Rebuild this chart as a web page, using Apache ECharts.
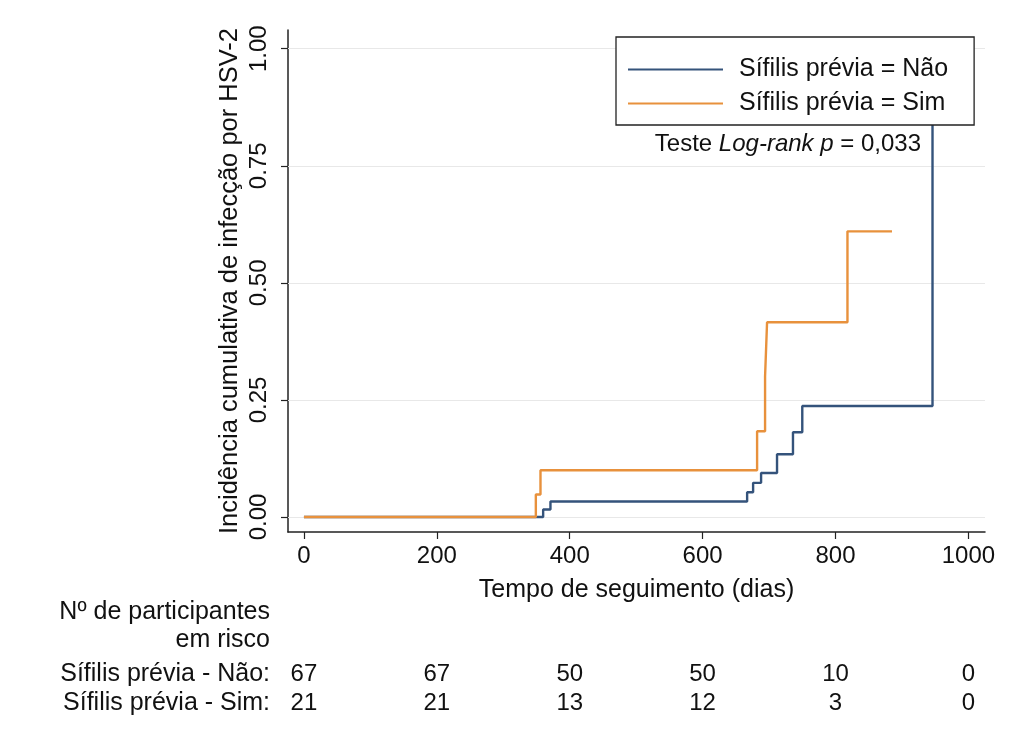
<!DOCTYPE html>
<html>
<head>
<meta charset="utf-8">
<script src="https://cdn.jsdelivr.net/npm/echarts@6/dist/echarts.min.js"></script>
<style>
  html, body { margin: 0; padding: 0; background: #fff; }
  #chart { width: 1019px; height: 738px; }
</style>
</head>
<body>
<div id="chart"></div>
<script>
// Kaplan-Meier cumulative incidence steps: [day, cumulative incidence]
const naoTimes = [0, 360, 371, 667, 676, 688, 712, 736, 750, 946];
const naoInc   = [0, 0.016, 0.033, 0.053, 0.073, 0.094, 0.134, 0.181, 0.237, 1.0];
const simTimes = [0, 349, 356, 682, 694, 697, 818, 885];
const simInc   = [0, 0.048, 0.100, 0.183, 0.300, 0.416, 0.610, 0.610];

// Number at risk table
const riskTimes = [0, 200, 400, 600, 800, 1000];
const riskNao = [67, 67, 50, 50, 10, 0];
const riskSim = [21, 21, 13, 12, 3, 0];
const riskRows = ['Sífilis prévia - Não:', 'Sífilis prévia - Sim:'];

const xTicks = [0, 200, 400, 600, 800, 1000];
const yTicks = [0, 0.25, 0.5, 0.75, 1];

const seriesNames = ['Sífilis prévia = Não', 'Sífilis prévia = Sim'];
const BLUE = '#34537b';
const ORANGE = '#e8913c';
const FONT = '"Liberation Sans", Arial, Helvetica, sans-serif';
const TXT = '#111';

const zip = (a, b) => a.map((v, i) => [v, b[i]]);

const chart = echarts.init(document.getElementById('chart'), null, { renderer: 'canvas' });

const riskLabel = {
  show: true, position: 'inside', formatter: p => String(p.data[2]),
  fontFamily: FONT, fontSize: 24, color: TXT, opacity: 1
};

const option = {
  backgroundColor: '#fff',
  animation: false,
  textStyle: { fontFamily: FONT, color: TXT },
  grid: [
    { left: 288, right: 34, top: 30, bottom: 206 },
    { left: 288, right: 34, top: 659.5, height: 58 }
  ],
  xAxis: [
    {
      gridIndex: 0, type: 'value', min: -24, max: 1025,
      name: 'Tempo de seguimento (dias)', nameLocation: 'middle', nameGap: 46,
      nameTextStyle: { fontFamily: FONT, fontSize: 25, color: TXT },
      axisLine: { show: true, onZero: false, lineStyle: { color: '#222', width: 1.5 } },
      axisTick: { show: true, length: 7, lineStyle: { color: '#222', width: 1.2 }, customValues: xTicks },
      axisLabel: { fontFamily: FONT, fontSize: 24, color: TXT, margin: 12, customValues: xTicks,
                   formatter: v => String(v) },
      splitLine: { show: false }
    },
    {
      gridIndex: 1, type: 'value', min: -24, max: 1025,
      axisLine: { show: false }, axisTick: { show: false }, axisLabel: { show: false }, splitLine: { show: false }
    }
  ],
  yAxis: [
    {
      gridIndex: 0, type: 'value', min: -0.032, max: 1.04,
      name: 'Incidência cumulativa de infecção por HSV-2', nameLocation: 'middle', nameRotate: 90,
      nameGap: 45, nameMoveOverlap: false,
      nameTextStyle: { fontFamily: FONT, fontSize: 25.5, color: TXT },
      axisLine: { show: true, onZero: false, lineStyle: { color: '#222', width: 1.5 } },
      axisTick: { show: true, length: 7, lineStyle: { color: '#222', width: 1.2 }, customValues: yTicks },
      axisLabel: {
        fontFamily: FONT, fontSize: 24, color: TXT, rotate: 90, margin: 17,
        customValues: yTicks, formatter: v => v.toFixed(2)
      },
      splitLine: { show: false }
    },
    {
      gridIndex: 1, type: 'category', inverse: true, data: riskRows,
      axisLine: { show: false }, axisTick: { show: false }, splitLine: { show: false },
      axisLabel: { fontFamily: FONT, fontSize: 25, color: TXT, margin: 18, interval: 0, hideOverlap: false }
    }
  ],
  legend: {
    orient: 'vertical', left: 616, top: 37,
    data: seriesNames,
    icon: 'rect',
    backgroundColor: '#fff', borderColor: '#222', borderWidth: 1.3, borderRadius: 0,
    padding: [20, 26, 9, 12], itemGap: 9,
    itemWidth: 95, itemHeight: 2,
    textStyle: { fontFamily: FONT, fontSize: 25, color: TXT, padding: [0, 0, 0, 11] },
    z: 10
  },
  series: [
    {
      name: seriesNames[0], type: 'line', step: 'end', xAxisIndex: 0, yAxisIndex: 0,
      data: zip(naoTimes, naoInc), symbol: 'none', showSymbol: false,
      lineStyle: { color: BLUE, width: 2.4 }, itemStyle: { color: BLUE }, z: 3,
      // light horizontal reference lines at each y tick
      markLine: {
        silent: true, symbol: 'none', label: { show: false }, z: 1,
        lineStyle: { color: '#e8e8e8', width: 1.2, type: 'solid' },
        data: yTicks.map(v => ({ yAxis: v }))
      }
    },
    {
      name: seriesNames[1], type: 'line', step: 'end', xAxisIndex: 0, yAxisIndex: 0,
      data: zip(simTimes, simInc), symbol: 'none', showSymbol: false,
      lineStyle: { color: ORANGE, width: 2.4 }, itemStyle: { color: ORANGE }, z: 4
    },
    {
      type: 'scatter', xAxisIndex: 1, yAxisIndex: 1, symbolSize: 0, silent: true,
      data: riskTimes.map((t, i) => [t, 0, riskNao[i]]),
      label: riskLabel
    },
    {
      type: 'scatter', xAxisIndex: 1, yAxisIndex: 1, symbolSize: 0, silent: true,
      data: riskTimes.map((t, i) => [t, 1, riskSim[i]]),
      label: riskLabel
    }
  ],
  graphic: [
    {
      type: 'text', right: 1019 - 921, top: 132, z: 20,
      style: {
        text: 'Teste {i|Log-rank p} = 0,033',
        font: '24px ' + FONT, fill: TXT,
        rich: { i: { fontStyle: 'italic', fontFamily: FONT, fontSize: 24, fill: TXT } }
      }
    },
    {
      type: 'text', right: 1019 - 270, top: 600,
      style: { text: 'Nº de participantes', font: '25px ' + FONT, fill: TXT, align: 'right' }
    },
    {
      type: 'text', right: 1019 - 270, top: 628,
      style: { text: 'em risco', font: '25px ' + FONT, fill: TXT, align: 'right' }
    }
  ]
};

chart.setOption(option);
</script>
</body>
</html>
